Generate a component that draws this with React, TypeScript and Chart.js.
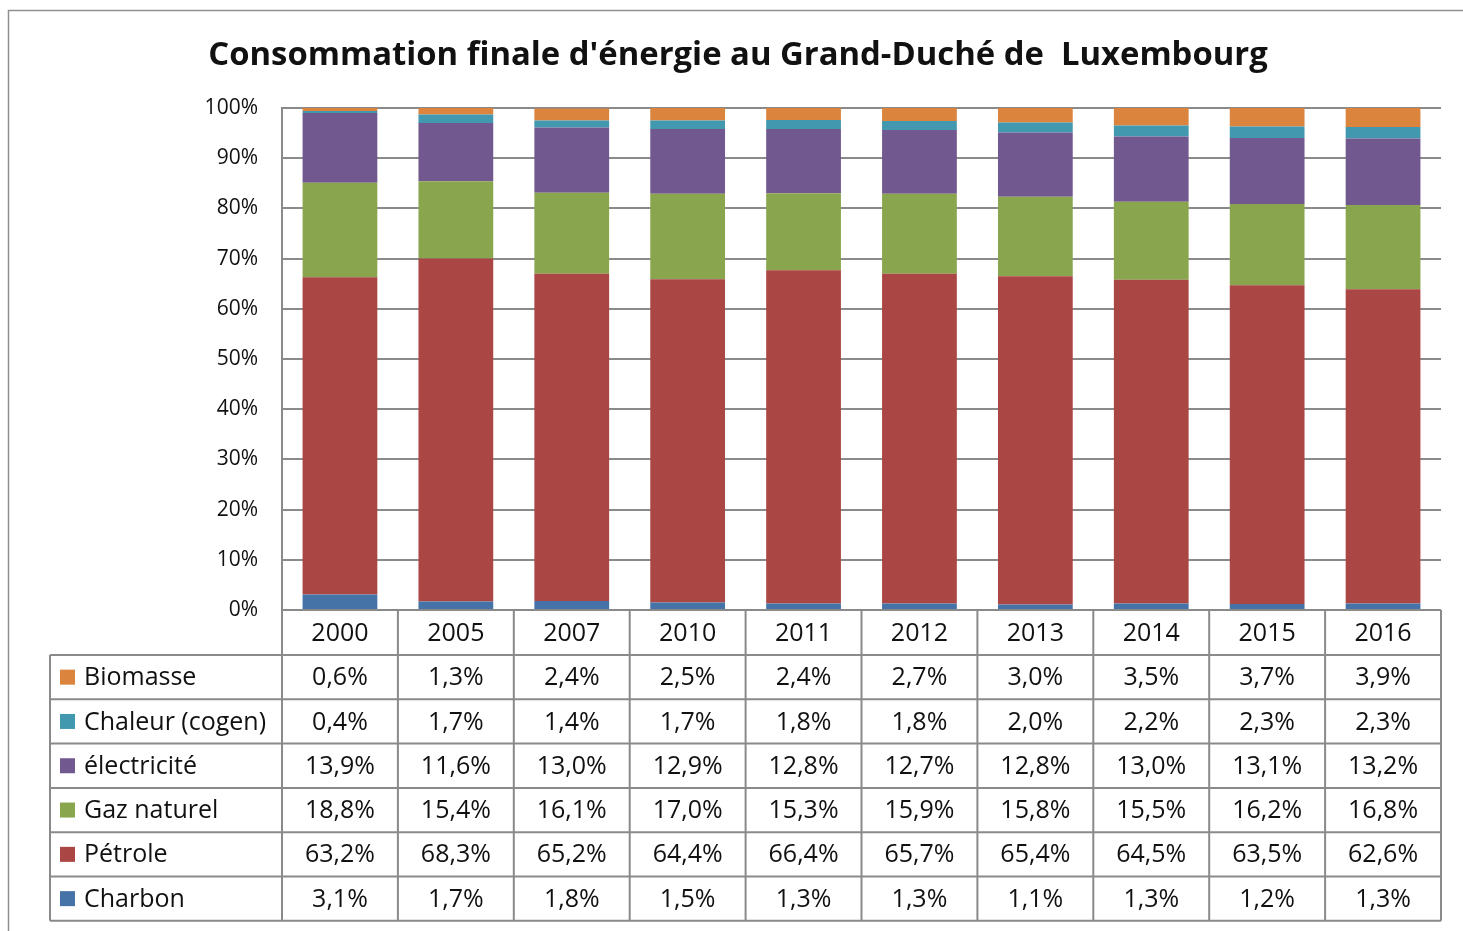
import React, { useEffect, useRef } from 'react';
import { Chart, registerables } from 'chart.js';

Chart.register(...registerables);

const TITLE = "Consommation finale d'énergie au Grand-Duché de  Luxembourg";
const YEARS = ['2000', '2005', '2007', '2010', '2011', '2012', '2013', '2014', '2015', '2016'];
const CHARBON = [3.1, 1.7, 1.8, 1.5, 1.3, 1.3, 1.1, 1.3, 1.2, 1.3];
const PETROLE = [63.2, 68.3, 65.2, 64.4, 66.4, 65.7, 65.4, 64.5, 63.5, 62.6];
const GAZ_NATUREL = [18.8, 15.4, 16.1, 17.0, 15.3, 15.9, 15.8, 15.5, 16.2, 16.8];
const ELECTRICITE = [13.9, 11.6, 13.0, 12.9, 12.8, 12.7, 12.8, 13.0, 13.1, 13.2];
const CHALEUR = [0.4, 1.7, 1.4, 1.7, 1.8, 1.8, 2.0, 2.2, 2.3, 2.3];
const BIOMASSE = [0.6, 1.3, 2.4, 2.5, 2.4, 2.7, 3.0, 3.5, 3.7, 3.9];
const SERIES_NAMES = ['Charbon', 'Pétrole', 'Gaz naturel', 'électricité', 'Chaleur (cogen)', 'Biomasse'];
const SERIES_COLORS = ['#4572A7', '#AA4643', '#89A54E', '#71588F', '#4198AF', '#DB843D'];
const Y_MAX = 100;
const Y_STEP = 10;

const FONT = '"Open Sans", "Noto Sans", sans-serif';
const GRID = '#8a8a8a';
const TEXT = '#111111';

const fmt = (v: number) => v.toFixed(1).replace('.', ',') + '%';

const frameTitleTable = {
  id: 'frameTitleTable',
  beforeDraw(chart: any) {
    const ctx = chart.ctx;
    ctx.save();
    ctx.fillStyle = '#ffffff';
    ctx.fillRect(0, 0, chart.width, chart.height);
    ctx.strokeStyle = '#8f8f8f';
    ctx.lineWidth = 1.5;
    ctx.strokeRect(8.5, 10.5, chart.width + 20, chart.height + 20);

    // title
    const targetW = 1060;
    ctx.font = `bold 30px ${FONT}`;
    const w = ctx.measureText(TITLE).width;
    const size = Math.min(34, (30 * targetW) / w);
    ctx.font = `bold ${size}px ${FONT}`;
    ctx.fillStyle = TEXT;
    ctx.textAlign = 'center';
    ctx.textBaseline = 'middle';
    ctx.fillText(TITLE, 738, 56);
    ctx.restore();
  },
  afterDraw(chart: any) {
    const ctx = chart.ctx;
    const area = chart.chartArea;
    const xs = chart.scales.x;
    const data = chart.data.datasets;
    const n = YEARS.length;
    const colW = (area.right - area.left) / n;
    const top = area.bottom;
    const headerH = 45;
    const rowH = 44.3;
    const labelLeft = 50;
    const rows = data.slice().reverse();
    const bodyTop = top + headerH;
    const bottom = bodyTop + rows.length * rowH;

    ctx.save();
    ctx.strokeStyle = GRID;
    ctx.lineWidth = 2;
    ctx.beginPath();
    ctx.moveTo(area.left, top);
    ctx.lineTo(area.right, top);
    for (let k = 0; k <= rows.length; k++) {
      const y = bodyTop + k * rowH;
      ctx.moveTo(labelLeft, y);
      ctx.lineTo(area.right, y);
    }
    for (let i = 0; i <= n; i++) {
      const x = area.left + i * colW;
      ctx.moveTo(x, top);
      ctx.lineTo(x, bottom);
    }
    ctx.moveTo(labelLeft, bodyTop);
    ctx.lineTo(labelLeft, bottom);
    ctx.stroke();

    ctx.fillStyle = TEXT;
    ctx.font = `25px ${FONT}`;
    ctx.textBaseline = 'middle';
    ctx.textAlign = 'center';
    YEARS.forEach((yr, i) => {
      ctx.fillText(yr, xs.getPixelForValue(i), top + headerH / 2 + 1);
    });

    rows.forEach((ds: any, r: number) => {
      const cy = bodyTop + r * rowH + rowH / 2;
      ctx.fillStyle = ds.backgroundColor;
      ctx.fillRect(labelLeft + 10, cy - 7.5, 15, 15);
      ctx.fillStyle = TEXT;
      ctx.textAlign = 'left';
      ctx.fillText(ds.label, labelLeft + 34, cy + 1);
      ctx.textAlign = 'center';
      ds.data.forEach((v: number, i: number) => {
        ctx.fillText(fmt(v), xs.getPixelForValue(i), cy + 1);
      });
    });
    ctx.restore();
  },
};

export default function App() {
  const ref = useRef<HTMLCanvasElement | null>(null);

  useEffect(() => {
    document.body.style.margin = '0';
    const canvas = ref.current;
    if (!canvas) return;
    const values = [CHARBON, PETROLE, GAZ_NATUREL, ELECTRICITE, CHALEUR, BIOMASSE];
    const chart = new Chart(canvas, {
      type: 'bar',
      data: {
        labels: YEARS,
        datasets: values.map((d, i) => ({
          label: SERIES_NAMES[i],
          data: d,
          backgroundColor: SERIES_COLORS[i],
          borderWidth: 0,
          barPercentage: 0.645,
          categoryPercentage: 1,
        })),
      },
      options: {
        responsive: false,
        animation: false,
        devicePixelRatio: 1,
        layout: { padding: { left: 182, right: 22, top: 108, bottom: 321 } },
        plugins: {
          legend: { display: false },
          tooltip: { enabled: false },
          title: { display: false },
        },
        scales: {
          x: { stacked: true, display: false },
          y: {
            stacked: true,
            min: 0,
            max: Y_MAX,
            afterFit: (s: any) => { s.width = 100; },
            ticks: {
              stepSize: Y_STEP,
              padding: 24,
              color: TEXT,
              font: { family: FONT, size: 21 },
              callback: (v: any) => `${v}%`,
            },
            grid: { color: GRID, lineWidth: 2, drawTicks: false },
            border: { display: true, color: GRID, width: 2 },
          },
        },
      },
      plugins: [frameTitleTable],
    });
    return () => chart.destroy();
  }, []);

  return <canvas ref={ref} width={1463} height={931} style={{ display: 'block' }} />;
}
